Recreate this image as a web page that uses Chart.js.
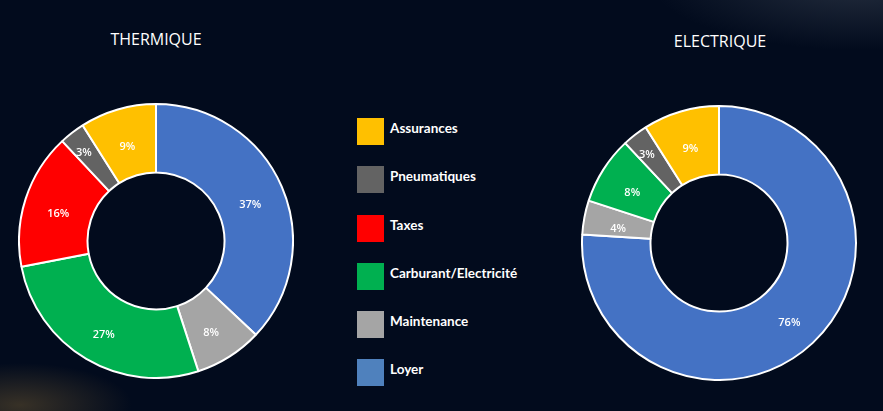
<!DOCTYPE html>
<html>
<head>
<meta charset="utf-8">
<script src="https://cdn.jsdelivr.net/npm/chart.js@4"></script>
<style>
  html, body { margin:0; padding:0; }
  body {
    width:883px; height:411px; overflow:hidden; position:relative;
    background:
      radial-gradient(ellipse 160px 60px at 20px 405px, rgba(120,95,50,0.45), rgba(0,0,0,0) 70%),
      radial-gradient(ellipse 300px 100px at 860px -20px, rgba(70,80,95,0.5), rgba(0,0,0,0) 70%),
      #020b1d;
    font-family: "Open Sans", sans-serif;
  }
  .title { position:absolute; color:#fff; font-size:16px; width:240px; text-align:center; }
  .box { position:absolute; width:276px; height:276px; }
  #legend { position:absolute; left:357px; top:118px; }
  .item { position:relative; height:48.3px; }
  .sw { position:absolute; left:0; top:0; width:27px; height:27px; }
  .lbl { position:absolute; left:33px; top:2px; color:#fff; font-family:"Lato", sans-serif; font-weight:bold; font-size:13.5px; white-space:nowrap; }
</style>
</head>
<body>
<div class="title" style="left:36px; top:28px;">THERMIQUE</div>
<div class="title" style="left:600px; top:30px;">ELECTRIQUE</div>
<div class="box" style="left:18px; top:103px;"><canvas id="thermique"></canvas></div>
<div class="box" style="left:581px; top:105px;"><canvas id="electrique"></canvas></div>
<div id="legend"></div>
<script>
// legend order (top to bottom)
const legendLabels = ["Assurances","Pneumatiques","Taxes","Carburant/Electricité","Maintenance","Loyer"];
const legendColors = ["#FFC000","#636363","#FF0000","#00B050","#A5A5A5","#4F81BD"];

// slices, clockwise from 12 o'clock
const sliceLabels = ["Loyer","Maintenance","Carburant/Electricité","Taxes","Pneumatiques","Assurances"];
const sliceColors = ["#4472C4","#A5A5A5","#00B050","#FF0000","#636363","#FFC000"];
const thermiqueValues = [37, 8, 27, 16, 3, 9];
const electriqueValues = [76, 4, 8, 0, 3, 9];

const legendEl = document.getElementById("legend");
legendLabels.forEach((l, i) => {
  const row = document.createElement("div");
  row.className = "item";
  row.innerHTML = '<div class="sw" style="background:' + legendColors[i] + '"></div><div class="lbl">' + l + '</div>';
  legendEl.appendChild(row);
});

// % labels in the ring; thin slices get pushed toward the outer edge
const pctLabels = {
  id: "pctLabels",
  afterDatasetsDraw(chart) {
    const ctx = chart.ctx;
    const meta = chart.getDatasetMeta(0);
    const data = chart.data.datasets[0].data;
    ctx.save();
    ctx.fillStyle = "#fff";
    ctx.font = "600 11px 'Open Sans', sans-serif";
    ctx.textAlign = "center";
    ctx.textBaseline = "middle";
    meta.data.forEach((arc, i) => {
      if (!data[i]) return;
      const mid = (arc.startAngle + arc.endAngle) / 2;
      const r = data[i] <= 3
        ? arc.innerRadius + (arc.outerRadius - arc.innerRadius) * 0.72
        : (arc.innerRadius + arc.outerRadius) / 2;
      const x = arc.x + Math.cos(mid) * r;
      const y = arc.y + Math.sin(mid) * r + 5;
      ctx.fillText(data[i] + "%", x, y);
    });
    ctx.restore();
  }
};

function makeChart(id, values) {
  return new Chart(document.getElementById(id), {
    type: "doughnut",
    data: { labels: sliceLabels, datasets: [{ data: values, backgroundColor: sliceColors, borderColor: "#fff", borderWidth: 2 }] },
    options: {
      responsive: true, maintainAspectRatio: false, animation: false,
      cutout: "50%",
      plugins: { legend: { display: false }, tooltip: { enabled: false } }
    },
    plugins: [pctLabels]
  });
}

makeChart("thermique", thermiqueValues);
makeChart("electrique", electriqueValues);
</script>
</body>
</html>
